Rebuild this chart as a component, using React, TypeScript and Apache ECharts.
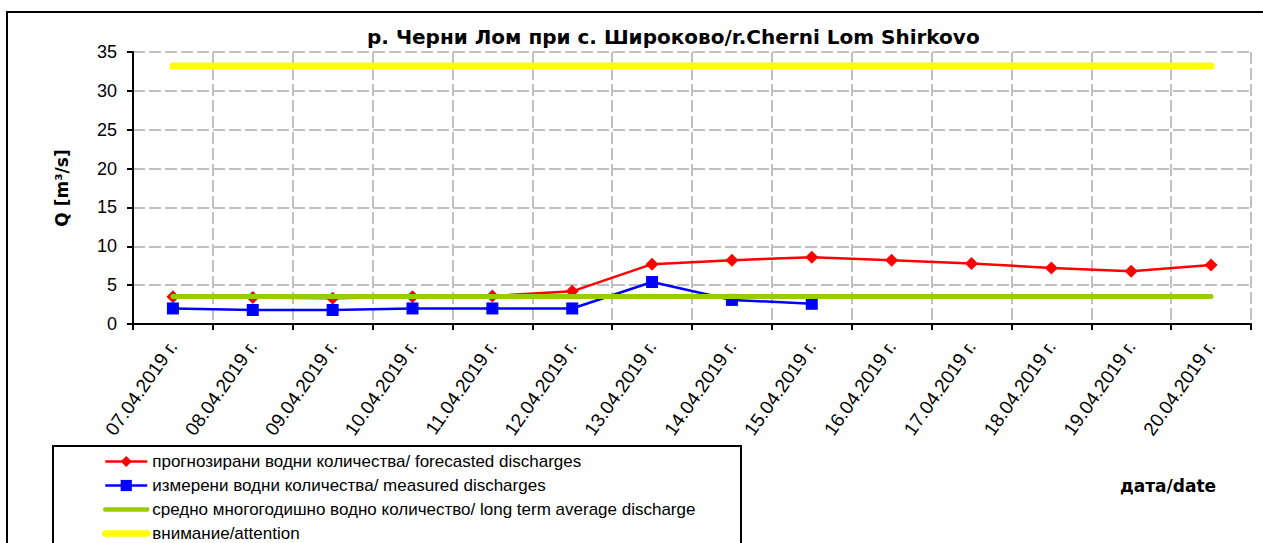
import React, { useEffect, useRef } from "react";
import * as echarts from "echarts";

const categories = [
  "07.04.2019 г.", "08.04.2019 г.", "09.04.2019 г.", "10.04.2019 г.", "11.04.2019 г.",
  "12.04.2019 г.", "13.04.2019 г.", "14.04.2019 г.", "15.04.2019 г.", "16.04.2019 г.",
  "17.04.2019 г.", "18.04.2019 г.", "19.04.2019 г.", "20.04.2019 г.",
];
const forecast = [3.5, 3.4, 3.3, 3.5, 3.6, 4.2, 7.7, 8.2, 8.6, 8.2, 7.8, 7.2, 6.8, 7.6];
const measured = [2.0, 1.8, 1.8, 2.0, 2.0, 2.0, 5.4, 3.1, 2.6, null, null, null, null, null];
const longTermAverage = [3.55, 3.55, 3.55, 3.55, 3.55, 3.55, 3.55, 3.55, 3.55, 3.55, 3.55, 3.55, 3.55, 3.55];
const attention = [33.2, 33.2, 33.2, 33.2, 33.2, 33.2, 33.2, 33.2, 33.2, 33.2, 33.2, 33.2, 33.2, 33.2];

const seriesNames = [
  "прогнозирани водни количества/ forecasted discharges",
  "измерени водни количества/ measured discharges",
  "средно многогодишно водно количество/ long term average discharge",
  "внимание/attention",
];
const yTicks = { min: 0, max: 35, interval: 5 };
const titleText = "р. Черни Лом при с. Широково/r.Cherni Lom Shirkovo";
const yName = "Q [m³/s]";
const xName = "дата/date";

const FONT = "'Liberation Sans', Arial, sans-serif";
const BOLD_FONT = "'DejaVu Sans', 'Liberation Sans', Arial, sans-serif";

export default function App() {
  const ref = useRef<HTMLDivElement>(null);
  useEffect(() => {
    if (!ref.current) return;
    const chart = echarts.init(ref.current, null, { renderer: "svg" });
    const gridColor = "#c0c0c0";
    chart.setOption({
      animation: false,
      backgroundColor: "#ffffff",
      textStyle: { fontFamily: FONT },
      title: {
        text: titleText,
        left: 367,
        top: 27,
        padding: 0,
        textStyle: { fontFamily: BOLD_FONT, fontWeight: "bold", fontSize: 20, color: "#000" },
      },
      grid: { left: 133, right: 12, top: 52, bottom: 219, containLabel: false },
      legend: {
        orient: "vertical",
        left: 102,
        top: 453,
        height: 140,
        padding: 0,
        itemWidth: 42,
        itemHeight: 14,
        itemGap: 7,
        selectedMode: false,
        textStyle: { fontFamily: FONT, fontSize: 17, color: "#000", lineHeight: 16 },
        data: [
          { name: seriesNames[0], lineStyle: { width: 2.5 } },
          { name: seriesNames[1], lineStyle: { width: 2.5 } },
          { name: seriesNames[2], itemStyle: { opacity: 0 }, lineStyle: { width: 4.5, cap: "round" } },
          { name: seriesNames[3], itemStyle: { opacity: 0 }, lineStyle: { width: 6.5, cap: "round" } },
        ],
      },
      xAxis: {
        type: "category",
        data: categories,
        boundaryGap: true,
        axisLine: { show: true, lineStyle: { color: "#000", width: 2 } },
        axisTick: { show: true, length: 6, lineStyle: { color: "#000", width: 2 } },
        splitLine: { show: true, lineStyle: { color: gridColor, width: 2, type: [12, 4] } },
        axisLabel: {
          rotate: 55,
          margin: 19,
          interval: 0,
          fontFamily: FONT,
          fontSize: 19,
          color: "#000",
        },
      },
      yAxis: {
        type: "value",
        min: yTicks.min,
        max: yTicks.max,
        interval: yTicks.interval,
        name: yName,
        nameLocation: "middle",
        nameGap: 63,
        nameRotate: 90,
        nameTextStyle: { fontFamily: BOLD_FONT, fontWeight: "bold", fontSize: 17, color: "#000" },
        axisLine: { show: true, lineStyle: { color: "#000", width: 2 } },
        axisTick: { show: true, length: 6, lineStyle: { color: "#000", width: 2 } },
        splitLine: { show: true, lineStyle: { color: gridColor, width: 2, type: [12, 4] } },
        axisLabel: { margin: 16, fontFamily: FONT, fontSize: 18, color: "#000" },
      },
      graphic: [
        {
          type: "rect",
          shape: { x: 7, y: 12, width: 1400, height: 1000 },
          style: { fill: "none", stroke: "#000", lineWidth: 2 },
          silent: true,
        },
        {
          type: "rect",
          shape: { x: 53, y: 446, width: 688, height: 200 },
          style: { fill: "none", stroke: "#000", lineWidth: 2 },
          silent: true,
        },
        {
          type: "text",
          x: 1120,
          y: 477,
          style: { text: xName, font: `bold 17px ${BOLD_FONT}`, fill: "#000" },
          silent: true,
        },
      ],
      series: [
        {
          name: seriesNames[0],
          type: "line",
          data: forecast,
          z: 2,
          symbol: "diamond",
          symbolSize: 13,
          itemStyle: { color: "#ff0000" },
          lineStyle: { color: "#ff0000", width: 2.5 },
        },
        {
          name: seriesNames[1],
          type: "line",
          data: measured,
          z: 2,
          symbol: "rect",
          symbolSize: 12,
          connectNulls: false,
          itemStyle: { color: "#0000ff" },
          lineStyle: { color: "#0000ff", width: 2.5 },
        },
        {
          name: seriesNames[2],
          type: "line",
          data: longTermAverage,
          z: 3,
          symbol: "none",
          itemStyle: { color: "#99cc00" },
          lineStyle: { color: "#99cc00", width: 5, cap: "round" },
        },
        {
          name: seriesNames[3],
          type: "line",
          data: attention,
          z: 3,
          symbol: "none",
          itemStyle: { color: "#ffff00" },
          lineStyle: { color: "#ffff00", width: 7, cap: "round" },
        },
      ],
    });
    return () => chart.dispose();
  }, []);
  return (
    <div
      ref={ref}
      style={{ position: "fixed", left: 0, top: 0, width: 1263, height: 543, background: "#fff" }}
    />
  );
}
